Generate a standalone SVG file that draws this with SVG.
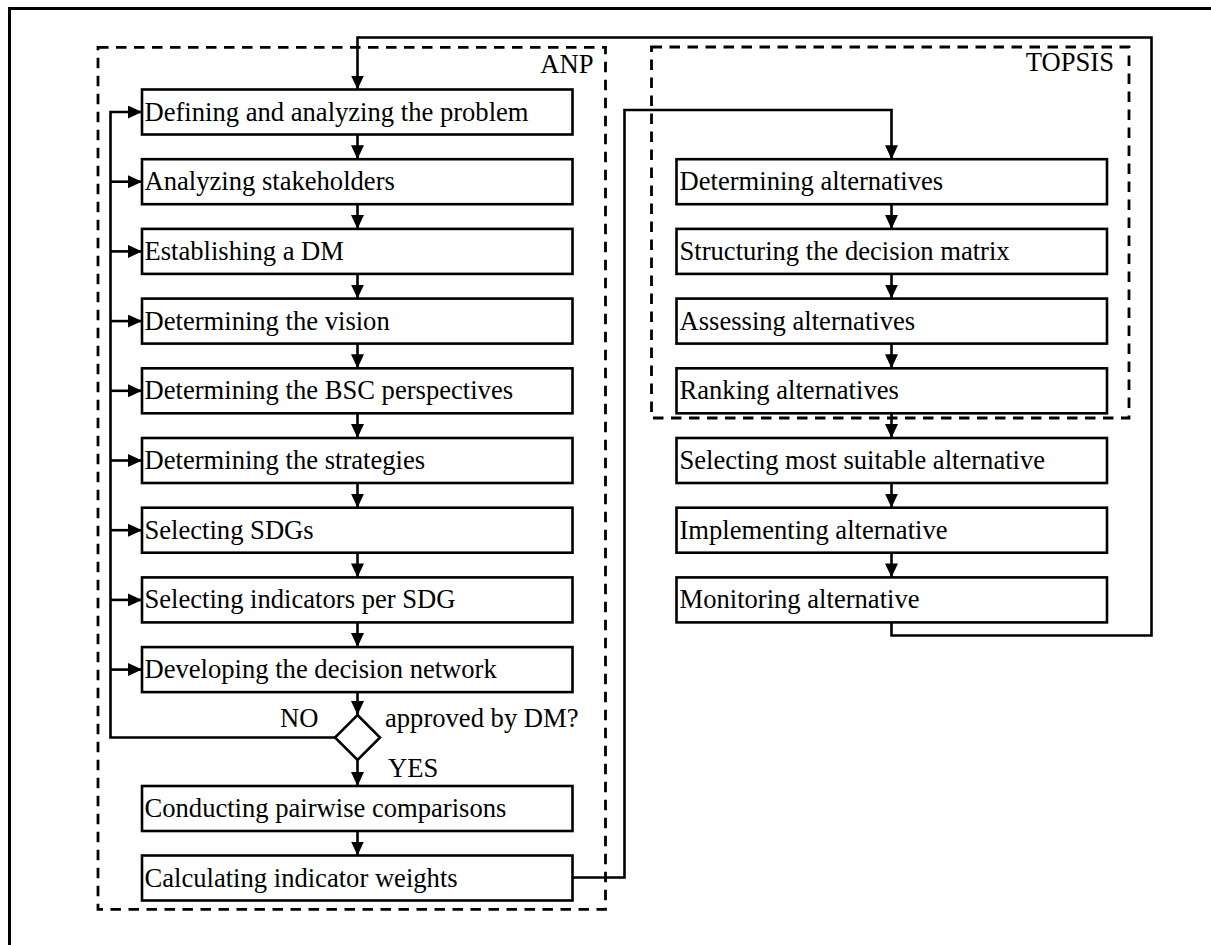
<svg xmlns="http://www.w3.org/2000/svg" width="1211" height="945" viewBox="0 0 1211 945">
  <style>
    .box { fill: #fff; stroke: #000; stroke-width: 2.6; }
    .frame { fill: none; stroke: #000; stroke-width: 3; }
    .group { fill: none; stroke: #000; stroke-width: 2.8; stroke-dasharray: 10.5 7.5; }
    .wire { fill: none; stroke: #000; stroke-width: 2.6; }
    .arrow { marker-end: url(#head); }
    text { font-family: "Liberation Serif", "Times New Roman", serif; font-size: 26.6px; fill: #000; }
    .label { text-anchor: end; }
  </style>
  <defs>
    <marker id="head" viewBox="0 0 14 13" refX="14" refY="6.5" markerWidth="14" markerHeight="13" markerUnits="userSpaceOnUse" orient="auto">
      <path d="M0,0 L14,6.5 L0,13 Z" fill="#000"/>
    </marker>
  </defs>
  <rect width="1211" height="945" fill="#fff"/>

  <!-- page frame (left and top edges visible) -->
  <rect class="frame" x="9.5" y="8.5" width="1260" height="1000"/>

  <!-- method groupings -->
  <g id="group-anp">
    <rect class="group" x="98" y="47.3" width="507.5" height="862"/>
    <text class="label" x="593.5" y="72.5">ANP</text>
  </g>
  <g id="group-topsis">
    <rect class="group" x="651.5" y="47" width="477.5" height="371"/>
    <text class="label" x="1114" y="71">TOPSIS</text>
  </g>

  <!-- connectors -->
  <g id="connectors">
    <!-- main flow, left column -->
    <line class="wire arrow" x1="357.5" y1="134.5" x2="357.5" y2="159.2"/>
    <line class="wire arrow" x1="357.5" y1="204.2" x2="357.5" y2="228.9"/>
    <line class="wire arrow" x1="357.5" y1="273.9" x2="357.5" y2="298.6"/>
    <line class="wire arrow" x1="357.5" y1="343.6" x2="357.5" y2="368.3"/>
    <line class="wire arrow" x1="357.5" y1="413.3" x2="357.5" y2="438"/>
    <line class="wire arrow" x1="357.5" y1="483" x2="357.5" y2="507.7"/>
    <line class="wire arrow" x1="357.5" y1="552.7" x2="357.5" y2="577.4"/>
    <line class="wire arrow" x1="357.5" y1="622.4" x2="357.5" y2="647.1"/>
    <line class="wire arrow" x1="357.5" y1="692.1" x2="357.5" y2="715"/>
    <line class="wire arrow" x1="357.5" y1="760" x2="357.5" y2="786"/>
    <line class="wire arrow" x1="357.5" y1="831" x2="357.5" y2="855.5"/>

    <!-- NO: feedback loop back to every step -->
    <path class="wire arrow" d="M335,737.5 H110.5 V112 H142"/>
    <line class="wire arrow" x1="110.5" y1="181.7" x2="142" y2="181.7"/>
    <line class="wire arrow" x1="110.5" y1="251.4" x2="142" y2="251.4"/>
    <line class="wire arrow" x1="110.5" y1="321.1" x2="142" y2="321.1"/>
    <line class="wire arrow" x1="110.5" y1="390.8" x2="142" y2="390.8"/>
    <line class="wire arrow" x1="110.5" y1="460.5" x2="142" y2="460.5"/>
    <line class="wire arrow" x1="110.5" y1="530.2" x2="142" y2="530.2"/>
    <line class="wire arrow" x1="110.5" y1="599.9" x2="142" y2="599.9"/>
    <line class="wire arrow" x1="110.5" y1="669.6" x2="142" y2="669.6"/>

    <!-- weights feed the TOPSIS stage -->
    <path class="wire arrow" d="M572.5,877.5 H624.5 V110 H891.5 V159.2"/>

    <!-- main flow, right column -->
    <line class="wire arrow" x1="891.5" y1="204.2" x2="891.5" y2="228.9"/>
    <line class="wire arrow" x1="891.5" y1="273.9" x2="891.5" y2="298.6"/>
    <line class="wire arrow" x1="891.5" y1="343.6" x2="891.5" y2="368.3"/>
    <line class="wire arrow" x1="891.5" y1="413.3" x2="891.5" y2="438"/>
    <line class="wire arrow" x1="891.5" y1="483" x2="891.5" y2="507.7"/>
    <line class="wire arrow" x1="891.5" y1="552.7" x2="891.5" y2="577.4"/>

    <!-- monitoring returns to the start -->
    <path class="wire arrow" d="M891.5,622.4 V635.5 H1151.5 V37.5 H357.5 V89.5"/>
  </g>

  <!-- ANP steps -->
  <g id="n-defining"><rect class="box" x="142" y="89.5" width="430.5" height="45"/><text x="144.5" y="120.5">Defining and analyzing the problem</text></g>
  <g id="n-stakeholders"><rect class="box" x="142" y="159.2" width="430.5" height="45"/><text x="144.5" y="190.2">Analyzing stakeholders</text></g>
  <g id="n-dm"><rect class="box" x="142" y="228.9" width="430.5" height="45"/><text x="144.5" y="259.9">Establishing a DM</text></g>
  <g id="n-vision"><rect class="box" x="142" y="298.6" width="430.5" height="45"/><text x="144.5" y="329.6">Determining the vision</text></g>
  <g id="n-bsc"><rect class="box" x="142" y="368.3" width="430.5" height="45"/><text x="144.5" y="399.3">Determining the BSC perspectives</text></g>
  <g id="n-strategies"><rect class="box" x="142" y="438" width="430.5" height="45"/><text x="144.5" y="469">Determining the strategies</text></g>
  <g id="n-sdgs"><rect class="box" x="142" y="507.7" width="430.5" height="45"/><text x="144.5" y="538.7">Selecting SDGs</text></g>
  <g id="n-indicators"><rect class="box" x="142" y="577.4" width="430.5" height="45"/><text x="144.5" y="608.4">Selecting indicators per SDG</text></g>
  <g id="n-network"><rect class="box" x="142" y="647.1" width="430.5" height="45"/><text x="144.5" y="678.1">Developing the decision network</text></g>
  <g id="n-approved">
    <path class="box" d="M357.5,715 L380,737.5 L357.5,760 L335,737.5 Z"/>
    <text x="385" y="727">approved by DM?</text>
    <text x="280" y="727">NO</text>
    <text x="388" y="776.5">YES</text>
  </g>
  <g id="n-pairwise"><rect class="box" x="142" y="786" width="430.5" height="45"/><text x="144.5" y="817">Conducting pairwise comparisons</text></g>
  <g id="n-weights"><rect class="box" x="142" y="855.5" width="430.5" height="45"/><text x="144.5" y="886.5">Calculating indicator weights</text></g>

  <!-- TOPSIS and follow-up steps -->
  <g id="n-alternatives"><rect class="box" x="676.5" y="159.2" width="430.5" height="45"/><text x="679.5" y="190.2">Determining alternatives</text></g>
  <g id="n-matrix"><rect class="box" x="676.5" y="228.9" width="430.5" height="45"/><text x="679.5" y="259.9">Structuring the decision matrix</text></g>
  <g id="n-assessing"><rect class="box" x="676.5" y="298.6" width="430.5" height="45"/><text x="679.5" y="329.6">Assessing alternatives</text></g>
  <g id="n-ranking"><rect class="box" x="676.5" y="368.3" width="430.5" height="45"/><text x="679.5" y="399.3">Ranking alternatives</text></g>
  <g id="n-selecting"><rect class="box" x="676.5" y="438" width="430.5" height="45"/><text x="679.5" y="469">Selecting most suitable alternative</text></g>
  <g id="n-implementing"><rect class="box" x="676.5" y="507.7" width="430.5" height="45"/><text x="679.5" y="538.7">Implementing alternative</text></g>
  <g id="n-monitoring"><rect class="box" x="676.5" y="577.4" width="430.5" height="45"/><text x="679.5" y="608.4">Monitoring alternative</text></g>
</svg>
